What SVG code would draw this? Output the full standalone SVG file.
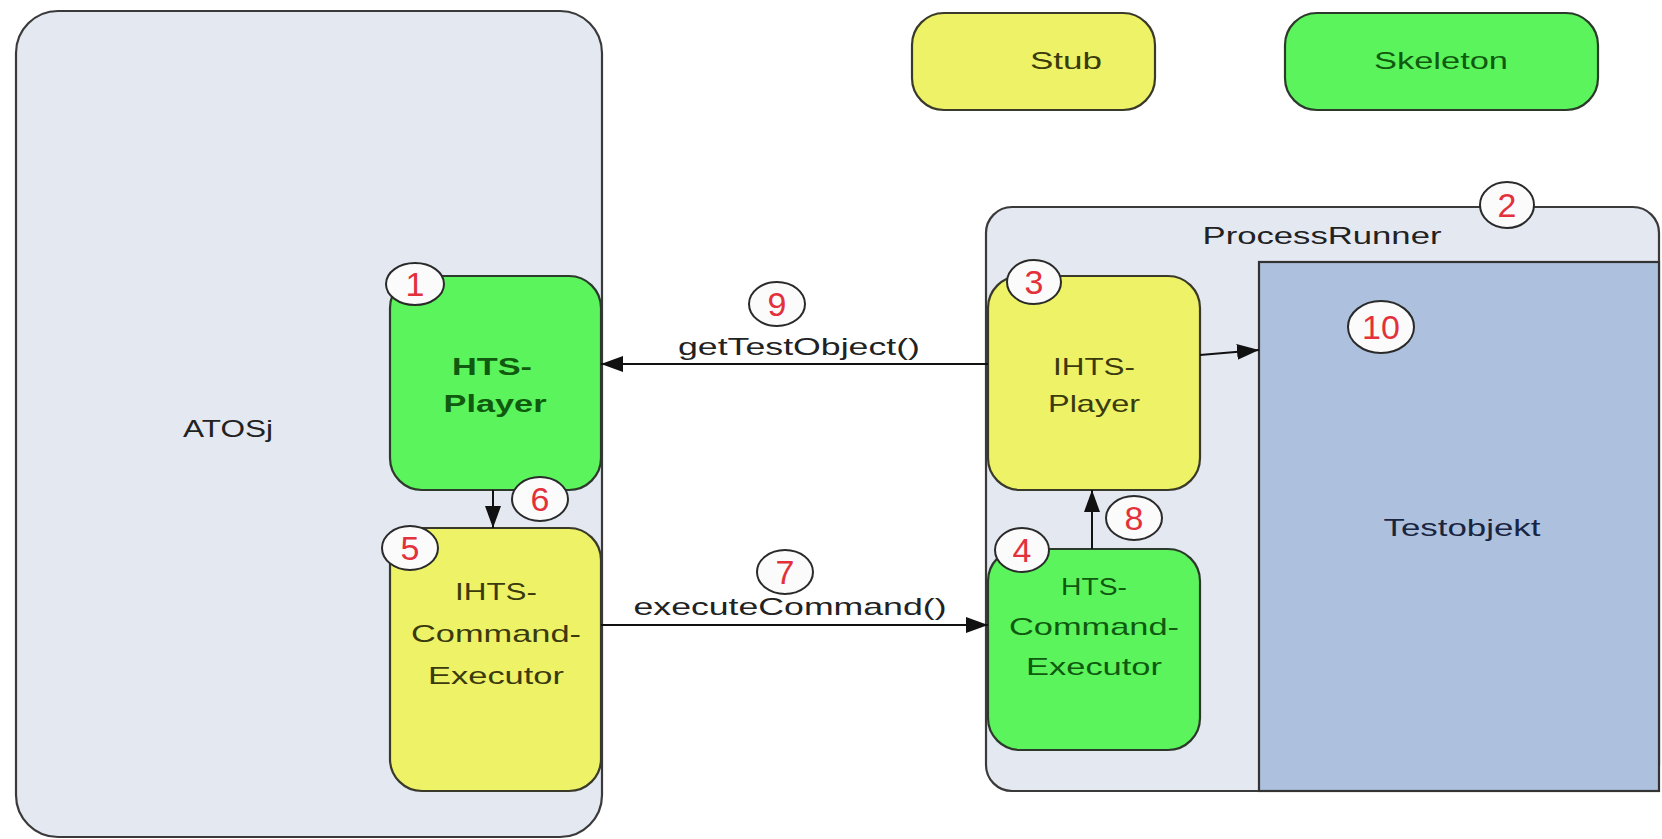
<svg xmlns="http://www.w3.org/2000/svg" width="1662" height="839" viewBox="0 0 1662 839">
<defs>
<marker id="ah" markerWidth="22" markerHeight="16" refX="22" refY="8" orient="auto" markerUnits="userSpaceOnUse" viewBox="0 0 22 16">
<path d="M0,0 L22,8 L0,16 Z" fill="#111"/>
</marker>
<style>
.cont{fill:#e3e8f1;stroke:#3a3a3a;stroke-width:2.2}
.green{fill:#5cf45c;stroke:#2c3a2c;stroke-width:2.2}
.yellow{fill:#eef266;stroke:#3a3a2a;stroke-width:2.2}
.test{fill:#adc0de;stroke:#333;stroke-width:2.2}
.t{font-family:"Liberation Sans",Arial,sans-serif;font-size:24px;text-anchor:middle}
.gt{fill:#0f5a0f}
.yt{fill:#3a3a0c}
.dk{fill:#222}
.bd{fill:#fbfbfb;stroke:#2a2a2a;stroke-width:2}
.bn{font-family:"Liberation Sans",Arial,sans-serif;font-size:34px;text-anchor:middle;fill:#e3313b}
.conn{stroke:#111;stroke-width:2;fill:none}
</style>
</defs>
<g id="atosj">
<rect class="cont" x="16" y="11" width="586" height="826" rx="42"/>
<text class="t dk" x="228" y="437" textLength="90" lengthAdjust="spacingAndGlyphs">ATOSj</text>
</g>
<g id="legend-stub">
<rect class="yellow" x="912" y="13" width="243" height="97" rx="32"/>
<text class="t yt" x="1066" y="69" textLength="72" lengthAdjust="spacingAndGlyphs">Stub</text>
</g>
<g id="legend-skeleton">
<rect class="green" x="1285" y="13" width="313" height="97" rx="32"/>
<text class="t gt" x="1441" y="69" textLength="134" lengthAdjust="spacingAndGlyphs">Skeleton</text>
</g>
<g id="processrunner">
<rect class="cont" x="986" y="207" width="673" height="584" rx="26"/>
<text class="t dk" x="1322" y="244" textLength="239" lengthAdjust="spacingAndGlyphs">ProcessRunner</text>
</g>
<g id="testobjekt">
<rect class="test" x="1259" y="262" width="400" height="529"/>
<text class="t" fill="#1a2540" x="1462" y="536" textLength="157" lengthAdjust="spacingAndGlyphs">Testobjekt</text>
</g>
<g id="hts-player">
<rect class="green" x="390" y="276" width="211" height="214" rx="32"/>
<text class="t gt" font-weight="bold" x="492" y="375" textLength="80" lengthAdjust="spacingAndGlyphs">HTS-</text>
<text class="t gt" font-weight="bold" x="495" y="412" textLength="103" lengthAdjust="spacingAndGlyphs">Player</text>
</g>
<g id="ihts-command-executor">
<rect class="yellow" x="390" y="528" width="211" height="263" rx="32"/>
<text class="t yt" x="496" y="600" textLength="82" lengthAdjust="spacingAndGlyphs">IHTS-</text>
<text class="t yt" x="496" y="642" textLength="170" lengthAdjust="spacingAndGlyphs">Command-</text>
<text class="t yt" x="496" y="684" textLength="136" lengthAdjust="spacingAndGlyphs">Executor</text>
</g>
<g id="ihts-player">
<rect class="yellow" x="988" y="276" width="212" height="214" rx="32"/>
<text class="t yt" x="1094" y="375" textLength="82" lengthAdjust="spacingAndGlyphs">IHTS-</text>
<text class="t yt" x="1094" y="412" textLength="92" lengthAdjust="spacingAndGlyphs">Player</text>
</g>
<g id="hts-command-executor">
<rect class="green" x="988" y="549" width="212" height="201" rx="32"/>
<text class="t gt" x="1094" y="595" textLength="66" lengthAdjust="spacingAndGlyphs">HTS-</text>
<text class="t gt" x="1094" y="635" textLength="170" lengthAdjust="spacingAndGlyphs">Command-</text>
<text class="t gt" x="1094" y="675" textLength="136" lengthAdjust="spacingAndGlyphs">Executor</text>
</g>
<g id="connectors">
<line class="conn" x1="988" y1="364" x2="601" y2="364" stroke="#555" stroke-width="3" marker-end="url(#ah)"/>
<text class="t dk" x="799" y="355" textLength="242" lengthAdjust="spacingAndGlyphs">getTestObject()</text>
<line class="conn" x1="601" y1="625" x2="988" y2="625" marker-end="url(#ah)"/>
<text class="t dk" x="790" y="615" textLength="313" lengthAdjust="spacingAndGlyphs">executeCommand()</text>
<line class="conn" x1="493" y1="490" x2="493" y2="528" marker-end="url(#ah)"/>
<line class="conn" x1="1092" y1="549" x2="1092" y2="490" marker-end="url(#ah)"/>
<line class="conn" x1="1200" y1="355" x2="1259" y2="350" marker-end="url(#ah)"/>
</g>
<g id="badges">
<g id="b1"><ellipse class="bd" cx="415" cy="284" rx="29" ry="21"/><text class="bn" x="415" y="296">1</text></g>
<g id="b2"><ellipse class="bd" cx="1507" cy="205" rx="27" ry="23"/><text class="bn" x="1507" y="217">2</text></g>
<g id="b3"><ellipse class="bd" cx="1034" cy="282" rx="27" ry="22"/><text class="bn" x="1034" y="294">3</text></g>
<g id="b4"><ellipse class="bd" cx="1022" cy="550" rx="27" ry="22"/><text class="bn" x="1022" y="562">4</text></g>
<g id="b5"><ellipse class="bd" cx="410" cy="548" rx="28" ry="22"/><text class="bn" x="410" y="560">5</text></g>
<g id="b6"><ellipse class="bd" cx="540" cy="499" rx="28" ry="22"/><text class="bn" x="540" y="511">6</text></g>
<g id="b7"><ellipse class="bd" cx="785" cy="572" rx="28" ry="22"/><text class="bn" x="785" y="584">7</text></g>
<g id="b8"><ellipse class="bd" cx="1134" cy="518" rx="28" ry="22"/><text class="bn" x="1134" y="530">8</text></g>
<g id="b9"><ellipse class="bd" cx="777" cy="304" rx="28" ry="22"/><text class="bn" x="777" y="316">9</text></g>
<g id="b10"><ellipse class="bd" cx="1381" cy="327" rx="33" ry="26"/><text class="bn" x="1381" y="339">10</text></g>
</g>
</svg>
